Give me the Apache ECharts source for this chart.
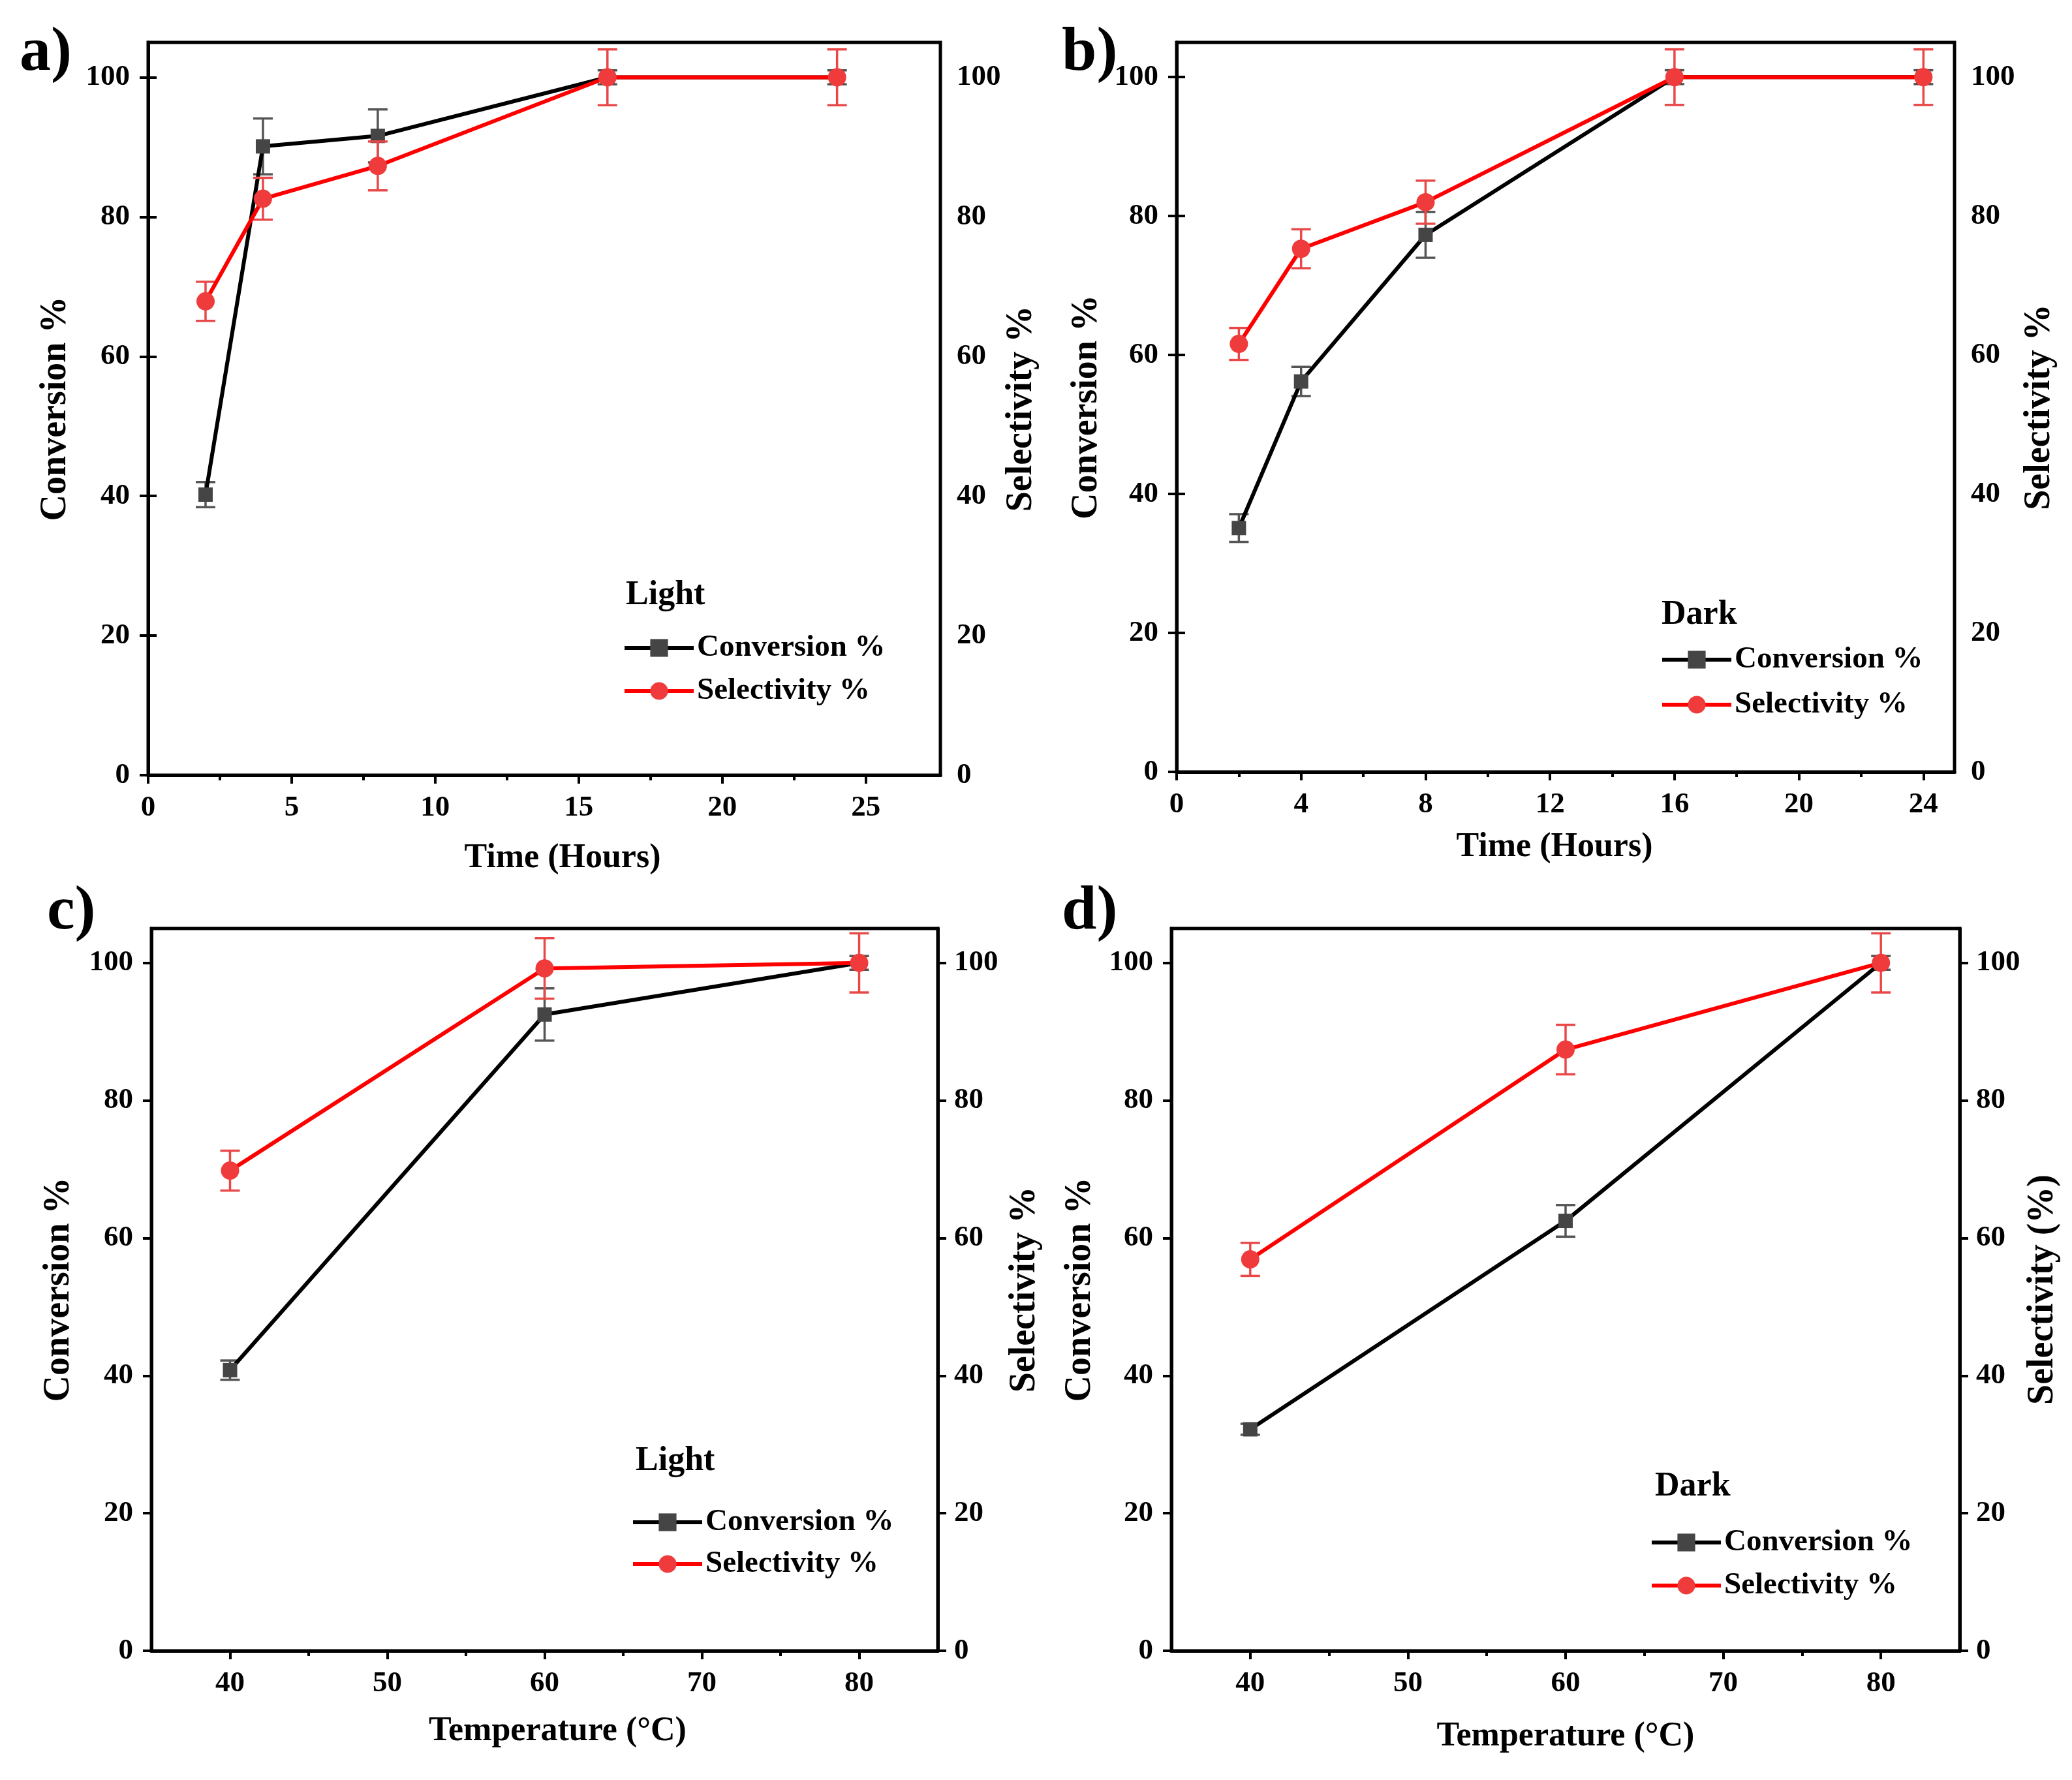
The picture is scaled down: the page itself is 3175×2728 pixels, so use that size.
<!DOCTYPE html>
<html><head><meta charset="utf-8">
<script src="https://cdn.jsdelivr.net/npm/echarts@6/dist/echarts.min.js"></script>
<style>html,body{margin:0;padding:0;background:#fff}#c{width:3175px;height:2728px}</style>
</head><body><div id="c"></div>
<script>
// ---- data ----
const timeA = [2, 4, 8, 16, 24];
const convA = [40.2, 90.1, 91.6, 100, 100];
const convAErr = [1.8, 4.0, 3.8, 1.0, 1.0];
const selA = [67.9, 82.6, 87.3, 100, 100];
const selAErr = [2.8, 3.0, 3.5, 4.0, 4.0];

const timeB = [2, 4, 8, 16, 24];
const convB = [35.1, 56.2, 77.3, 100, 100];
const convBErr = [2.0, 2.1, 3.3, 1.0, 1.0];
const selB = [61.6, 75.3, 82.0, 100, 100];
const selBErr = [2.3, 2.8, 3.1, 4.0, 4.0];

const tempC = [40, 60, 80];
const convC = [40.8, 92.5, 100];
const convCErr = [1.4, 3.8, 1.0];
const selC = [69.8, 99.2, 100];
const selCErr = [2.9, 4.4, 4.3];

const tempD = [40, 60, 80];
const convD = [32.2, 62.5, 100];
const convDErr = [0.8, 2.3, 1.0];
const selD = [56.9, 87.4, 100];
const selDErr = [2.4, 3.6, 4.3];

const yTicks = [0, 20, 40, 60, 80, 100];
const timeTicksA = [0, 5, 10, 15, 20, 25];
const timeMinorA = [2.5, 7.5, 12.5, 17.5, 22.5];
const timeTicksB = [0, 4, 8, 12, 16, 20, 24];
const timeMinorB = [2, 6, 10, 14, 18, 22];
const tempTicks = [40, 50, 60, 70, 80];
const tempMinor = [45, 55, 65, 75];

const CONV = 'Conversion %', SEL = 'Selectivity %';

// ---- layout ----
const FONT = '"Liberation Serif","Times New Roman",serif';
const panels = [
  {x: timeA, conv: convA, cErr: convAErr, sel: selA, sErr: selAErr,
   grid: {left: 227, top: 65, width: 1214, height: 1123}, xmin: 0, xmax: 27.6,
   major: timeTicksA, minor: timeMinorA, xname: 'Time (Hours)', xGap: 102, xShift: 56,
   yname: 'Conversion %', yGap: 113, rname: 'Selectivity %', rGap: 97,
   label: 'a)', labelPos: [30, 34], cond: 'Light', condPos: [959, 887], legPos: [954, 968], legGap: 16},
  {x: timeB, conv: convB, cErr: convBErr, sel: selB, sErr: selBErr,
   grid: {left: 1803, top: 65, width: 1192, height: 1118}, xmin: 0, xmax: 25,
   major: timeTicksB, minor: timeMinorB, xname: 'Time (Hours)', xGap: 90, xShift: -34,
   yname: 'Conversion %', yGap: 109, rname: 'Selectivity %', rGap: 103,
   label: 'b)', labelPos: [1627, 34], cond: 'Dark', condPos: [2546, 917], legPos: [2544, 986], legGap: 19},
  {x: tempC, conv: convC, cErr: convCErr, sel: selC, sErr: selCErr,
   grid: {left: 232, top: 1423, width: 1205, height: 1107}, xmin: 35, xmax: 85,
   major: tempTicks, minor: tempMinor, xname: 'Temperature (°C)', xGap: 98, xShift: 40,
   yname: 'Conversion %', yGap: 113, rname: 'Selectivity %', rGap: 106,
   label: 'c)', labelPos: [72, 1350], cond: 'Light', condPos: [974, 2214], legPos: [967, 2308], legGap: 14},
  {x: tempD, conv: convD, cErr: convDErr, sel: selD, sErr: selDErr,
   grid: {left: 1795, top: 1423, width: 1208, height: 1107}, xmin: 35, xmax: 85,
   major: tempTicks, minor: tempMinor, xname: 'Temperature (°C)', xGap: 106, xShift: 0,
   yname: 'Conversion %', yGap: 111, rname: 'Selectivity (%)', rGap: 100,
   label: 'd)', labelPos: [1627, 1350], cond: 'Dark', condPos: [2536, 2253], legPos: [2528, 2339], legGap: 16}
];

const grids = [], xAxes = [], yAxes = [], series = [], titles = [], legends = [];

function errRender(color) {
  return function (params, api) {
    const x = api.value(0), lo = api.value(1), hi = api.value(2);
    const p1 = api.coord([x, lo]), p2 = api.coord([x, hi]);
    const w = 15;
    const st = {stroke: color, lineWidth: 3.5};
    return {type: 'group', children: [
      {type: 'line', shape: {x1: p1[0], y1: p1[1], x2: p2[0], y2: p2[1]}, style: st},
      {type: 'line', shape: {x1: p1[0] - w, y1: p1[1], x2: p1[0] + w, y2: p1[1]}, style: st},
      {type: 'line', shape: {x1: p2[0] - w, y1: p2[1], x2: p2[0] + w, y2: p2[1]}, style: st}
    ]};
  };
}

const tickLabel = {fontFamily: FONT, fontWeight: 'bold', fontSize: 45, color: '#000'};
const nameStyle = {fontFamily: FONT, fontWeight: 'bold', fontSize: 52, color: '#000'};
const yNameStyle = {fontFamily: FONT, fontWeight: 'bold', fontSize: 56, color: '#000'};

panels.forEach((p, i) => {
  grids.push(Object.assign({show: true, borderColor: '#000', borderWidth: 5, containLabel: false, backgroundColor: 'transparent'}, p.grid));
  xAxes.push({
    type: 'value', gridIndex: i, min: p.xmin, max: p.xmax, position: 'bottom',
    name: p.xname, nameLocation: 'middle', nameGap: p.xGap,
    nameTextStyle: Object.assign({padding: p.xShift >= 0 ? [0, 0, 0, p.xShift] : [0, -p.xShift, 0, 0]}, nameStyle),
    axisLine: {show: true, lineStyle: {color: '#000', width: 5}},
    axisTick: {show: true, inside: false, length: 13, lineStyle: {color: '#000', width: 4}, customValues: p.major},
    axisLabel: Object.assign({show: true, margin: 28, customValues: p.major}, tickLabel),
    splitLine: {show: false}
  });
  yAxes.push({
    type: 'value', gridIndex: i, min: 0, max: 105, position: 'left',
    name: p.yname, nameLocation: 'middle', nameGap: p.yGap, nameRotate: 90, nameTextStyle: yNameStyle,
    axisLine: {show: true, lineStyle: {color: '#000', width: 5}},
    axisTick: {show: true, inside: false, length: 13, lineStyle: {color: '#000', width: 4}, customValues: yTicks},
    axisLabel: Object.assign({show: true, margin: 28, customValues: yTicks}, tickLabel),
    splitLine: {show: false}
  });
  yAxes.push({
    type: 'value', gridIndex: i, min: 0, max: 105, position: 'right',
    name: p.rname, nameLocation: 'middle', nameGap: p.rGap, nameRotate: 90, nameTextStyle: yNameStyle,
    axisLine: {show: true, lineStyle: {color: '#000', width: 5}},
    axisTick: {show: true, inside: false, length: 13, lineStyle: {color: '#000', width: 4}, customValues: yTicks},
    axisLabel: Object.assign({show: true, margin: 25, customValues: yTicks}, tickLabel),
    splitLine: {show: false}
  });

  const convData = p.x.map((v, k) => [v, p.conv[k]]);
  const selData = p.x.map((v, k) => [v, p.sel[k]]);
  const convErrData = p.x.map((v, k) => [v, p.conv[k] - p.cErr[k], p.conv[k] + p.cErr[k]]);
  const selErrData = p.x.map((v, k) => [v, p.sel[k] - p.sErr[k], p.sel[k] + p.sErr[k]]);

  series.push({
    type: 'custom', name: 'convErr' + i, xAxisIndex: i, yAxisIndex: 2 * i,
    renderItem: errRender('#555555'), data: convErrData, encode: {x: 0, y: [1, 2]}, z: 2, silent: true
  });
  series.push({
    type: 'line', name: CONV, xAxisIndex: i, yAxisIndex: 2 * i, data: convData,
    symbol: 'rect', symbolSize: 22, showAllSymbol: true,
    lineStyle: {color: '#000', width: 6}, itemStyle: {color: '#454545'}, z: 3, animation: false
  });
  series.push({
    type: 'custom', name: 'selErr' + i, xAxisIndex: i, yAxisIndex: 2 * i + 1,
    renderItem: errRender('#e84848'), data: selErrData, encode: {x: 0, y: [1, 2]}, z: 4, silent: true
  });
  series.push({
    type: 'line', name: SEL, xAxisIndex: i, yAxisIndex: 2 * i + 1, data: selData,
    symbol: 'circle', symbolSize: 28, showAllSymbol: true,
    lineStyle: {color: '#ff0000', width: 6}, itemStyle: {color: '#ef3b3b'}, z: 5, animation: false
  });

  titles.push({text: p.label, left: p.labelPos[0], top: p.labelPos[1], padding: 0,
    textStyle: {fontFamily: FONT, fontWeight: 'bold', fontSize: 96, color: '#000'}});
  titles.push({text: p.cond, left: p.condPos[0], top: p.condPos[1], padding: 0,
    textStyle: {fontFamily: FONT, fontWeight: 'bold', fontSize: 52, color: '#000'}});
  legends.push({
    data: [CONV, SEL], orient: 'vertical', left: p.legPos[0], top: p.legPos[1], padding: 0,
    itemWidth: 106, itemHeight: 34, itemGap: p.legGap, selectedMode: false,
    lineStyle: {width: 6},
    textStyle: {fontFamily: FONT, fontWeight: 'bold', fontSize: 47, color: '#000', lineHeight: 50}
  });
});

// minor tick axes
panels.forEach((p, i) => {
  xAxes.push({
    type: 'value', gridIndex: i, min: p.xmin, max: p.xmax, position: 'bottom',
    axisLine: {show: false},
    axisTick: {show: true, inside: false, length: 8, lineStyle: {color: '#000', width: 4}, customValues: p.minor},
    axisLabel: {show: false}, splitLine: {show: false}
  });
});

const chart = echarts.init(document.getElementById('c'), null, {renderer: 'canvas'});
chart.setOption({
  backgroundColor: '#fff', animation: false,
  title: titles, legend: legends, grid: grids, xAxis: xAxes, yAxis: yAxes, series: series
});
</script></body></html>
